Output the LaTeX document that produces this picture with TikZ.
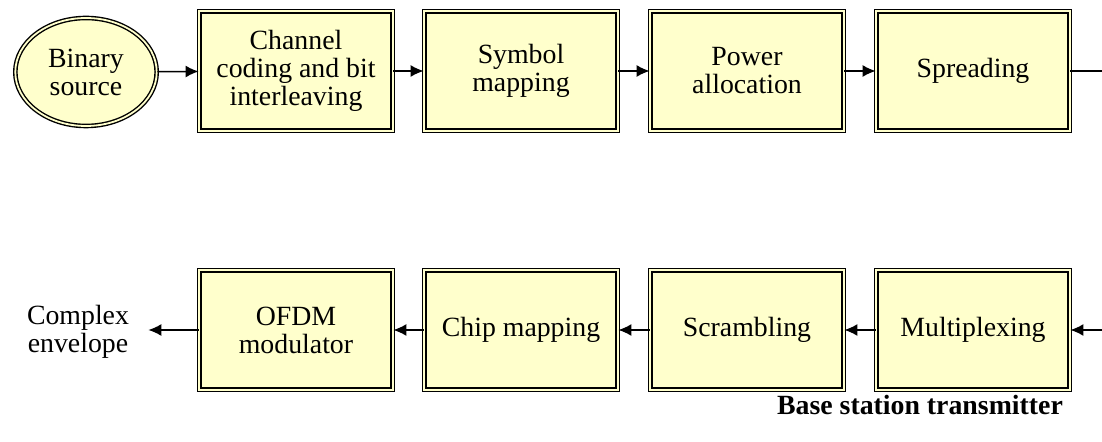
\documentclass[tikz,border=0pt]{standalone}
\usepackage{fontspec}
\setmainfont{Liberation Serif}
\usepackage{tikz}
\usetikzlibrary{shapes,arrows.meta}
\definecolor{paleyellow}{HTML}{FFFFCC}

\begin{document}
\begin{tikzpicture}[x=0.5pt,y=-0.5pt,
    >={Latex[length=6.5pt,width=6pt]},
    every node/.style={font=\fontsize{13.9}{14}\selectfont},
    block/.style={rectangle, draw, fill=paleyellow, line width=0.7pt,
        double=paleyellow, double distance=0.9pt, align=center, inner sep=0pt,
        minimum width=96.7pt, minimum height=59.7pt},
    source/.style={ellipse, draw, fill=paleyellow, line width=0.7pt,
        double=paleyellow, double distance=0.9pt, align=center, inner sep=0pt,
        minimum width=70.7pt, minimum height=54pt},
    link/.style={line width=0.75pt}]
    \useasboundingbox (0,0) rectangle (1102,442);
    % Draw the upper chain
    \node [source] (src) at (86,72) {Binary\\source};
    \node [block] (code) at (296,71) {Channel\\coding and bit\\interleaving};
    \node [block] (symmap) at (521,71) {Symbol\\mapping};
    \node [block] (power) at (747,71) {Power\\allocation};
    \node [block] (spread) at (973,71) {Spreading};
    \coordinate (outA) at (1102,71);

    % Draw the lower chain
    \coordinate (inB) at (1102,330);
    \node [block] (mux) at (973,330) {Multiplexing};
    \node [block] (scram) at (747,330) {Scrambling};
    \node [block] (chip) at (521,330) {Chip mapping};
    \node [block] (ofdm) at (296,330) {OFDM\\modulator};
    \node [align=center, inner xsep=9.5pt] (env) at (78,332) {Complex\\envelope};
    \node [font=\fontsize{13.9}{14}\selectfont\bfseries] (title) at (920,405) {Base station transmitter};

    % Connectors
    \draw [link,->] (src) -- (code);
    \draw [link,->] (code) -- (symmap);
    \draw [link,->] (symmap) -- (power);
    \draw [link,->] (power) -- (spread);
    \draw [link,-] (spread) -- (outA);
    \draw [link,->] (inB) -- (mux);
    \draw [link,->] (mux) -- (scram);
    \draw [link,->] (scram) -- (chip);
    \draw [link,->] (chip) -- (ofdm);
    \draw [link,->] (ofdm.west) -- (ofdm.west -| env.east);

\end{tikzpicture}
\end{document}
